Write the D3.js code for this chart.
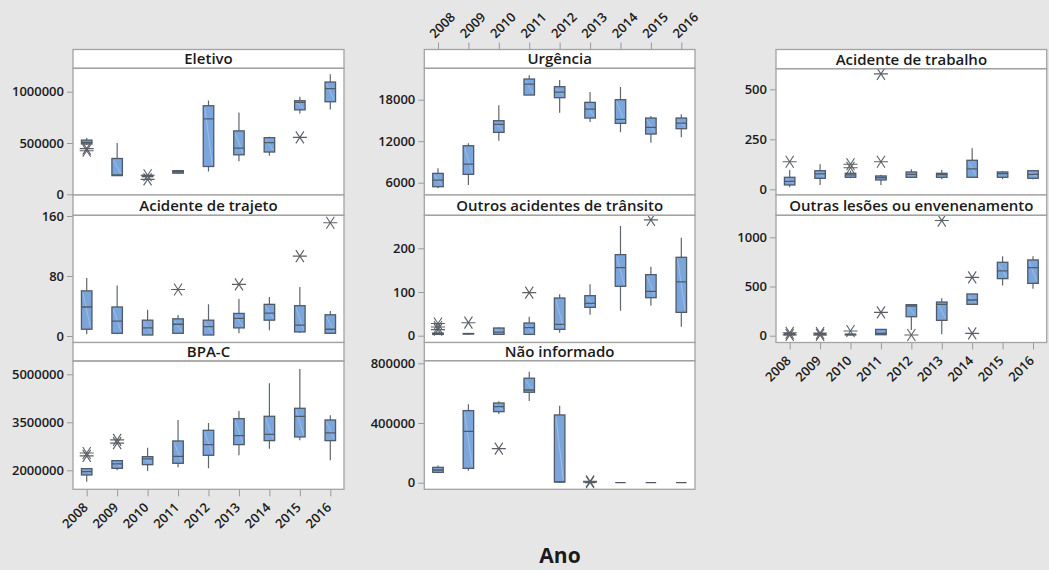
<!DOCTYPE html>
<html><head><meta charset="utf-8">
<script src="https://cdn.jsdelivr.net/npm/d3@7"></script>
<style>
html,body{margin:0;padding:0;background:#e6e6e6;}
svg{display:block;}
text{font-family:"Open Sans","Noto Sans",sans-serif;}
</style></head>
<body>
<script>
// ---------- DATA ----------
const years = ["2008","2009","2010","2011","2012","2013","2014","2015","2016"];

// each entry: [whiskerLow, Q1, median, Q3, whiskerHigh]
const eletivoBoxes = [
  [480000,490000,505000,528000,549000],[178000,182000,190000,349000,500000],
  [168000,172000,178000,185000,190000],[198000,206000,220000,230000,238000],
  [222000,271000,735000,863000,915000],[323000,385000,451000,618000,797000],
  [376000,412000,503000,552000,560000],[787000,823000,895000,912000,951000],
  [826000,902000,1029000,1094000,1170000]];
const eletivoOutliers = [[445000,425000],[],[145000,185000],[],[],[],[],[555000],[]];

const trajetoBoxes = [
  [2.2,9,38.7,60.2,77.3],[2.2,3.6,19.8,38.7,67.4],[1.3,1.3,10.8,21.1,35],
  [3.6,3.6,15.7,22.9,27.9],[1.3,1.3,12.6,21.1,42.2],[3.6,10.8,23.4,30.1,49.4],
  [7.6,21.1,30.6,42.2,52.1],[4.5,5.4,14.4,40.4,65.2],[2.7,3.6,9,28.3,33.3]];
const trajetoOutliers = [[],[],[],[62],[],[68.8],[],[106.5],[151]];

const bpacBoxes = [
  [1646000,1854000,1958000,2052000,2052000],[2000000,2062000,2198000,2302000,2302000],
  [1980000,2177000,2354000,2427000,2708000],[2094000,2219000,2437000,2917000,3573000],
  [2062000,2469000,2802000,3250000,3479000],[2469000,2802000,3083000,3615000,3854000],
  [2677000,2927000,3125000,3688000,4719000],[2938000,3042000,3688000,3938000,5167000],
  [2312000,2927000,3167000,3573000,3719000]];
const bpacOutliers = [[2450000,2540000],[2850000,2950000],[],[],[],[],[],[],[]];

const urgenciaBoxes = [
  [5181,5422,6386,7349,8072],[5663,7205,8699,11349,11687],[12072,13277,14433,14963,17180],
  [18674,18674,20264,20987,21518],[16120,18289,19108,19879,20843],[14771,15349,16650,17614,19108],
  [13277,14578,15156,18000,19831],[11783,13036,14000,15349,15638],[12554,13807,14626,15349,15879]];
const urgenciaOutliers = [[],[],[],[],[],[],[],[],[]];

const transitoBoxes = [
  [2,3,4,6,8],[3,4,4.5,5,5],[3,3,8,17.6,19],[3,3,18.3,29,43.5],[6.9,14.5,26,86.3,94.7],
  [48,64.9,74,91.6,118],[57.3,113,155.7,185.5,251],[68.7,87,101.5,139.7,158],
  [20.6,53.4,123,179.4,224.4]];
const transitoOutliers = [[28,20,14],[29.8],[],[98.5],[],[],[],[265],[]];

const naoInfBoxes = [
  [62600,69300,85000,102800,116000],[80000,96000,344000,483000,525000],
  [460000,476000,510000,534000,545000],[548000,606000,621000,700000,744000],
  [0,4500,5000,454000,516000],[0,0,0,0,0],[0,0,0,0,0],[0,0,0,0,0],[0,0,0,0,0]];
const naoInfOutliers = [[],[],[228000],[],[],[3000,9000],[],[],[]];

const trabalhoBoxes = [
  [10,21.7,40,60,96.7],[21.7,55,76.7,93,125],[55,60,71.7,80,93],[21.7,46.7,58,66.7,73],
  [60,60,75,86.7,100],[50,60,73,80,96.7],[60,60,101.7,145,205],[50,60,78.3,86.7,90],
  [50,55,75,93,93]];
const trabalhoOutliers = [[138],[],[125,108],[138,577],[],[],[],[],[]];

const lesoesBoxes = [
  [5,10,15,20,25],[5,10,15,20,25],[5,8,12,15,20],[10,10,24,64,64],[58,193,302,315,319],
  [14,156,319,342,380],[319,319,363,424,424],[509,580,658,746,807],[478,532,692,770,807]];
const lesoesOutliers = [[30,8],[28,8],[48],[237],[7],[1170],[593,24],[],[]];

const panelTitles = ["Eletivo","Acidente de trajeto","BPA-C","Urgência",
  "Outros acidentes de trânsito","Não informado","Acidente de trabalho","Outras lesões ou envenenamento"];
const yTicks = [[0,500000,1000000],[0,80,160],[2000000,3500000,5000000],[6000,12000,18000],
  [0,100,200],[0,400000,800000],[0,250,500],[0,500,1000]];
const xAxisTitle = "Ano";

// ---------- LAYOUT ----------
const W = 1049, H = 570;
const cols = [[73,344],[424.3,695],[776,1046.7]];
// [col, stripTop, stripBottom, plotBottom, tick0Pixel, tickLastPixel, xAxis]
const layout = [
  [0, 49.5, 68.3, 195, 194.3, 91.7, null],
  [0, 195, 215.3, 342.5, 336, 216, null],
  [0, 342.5, 361, 489.3, 470.3, 374.3, "bottom"],
  [1, 49.5, 68.3, 195, 182.7, 99.7, "top"],
  [1, 195, 215.3, 342.5, 335.7, 248.3, null],
  [1, 342.5, 360.7, 489.3, 482.7, 363.3, null],
  [2, 49.5, 68.7, 195, 189.3, 89.3, null],
  [2, 195, 215.3, 342.5, 335.7, 237.3, "bottom"]];
const boxes = [eletivoBoxes,trajetoBoxes,bpacBoxes,urgenciaBoxes,transitoBoxes,naoInfBoxes,trabalhoBoxes,lesoesBoxes];
const outliers = [eletivoOutliers,trajetoOutliers,bpacOutliers,urgenciaOutliers,transitoOutliers,naoInfOutliers,trabalhoOutliers,lesoesOutliers];

const BOX_FILL = "#7ba6dc", BOX_STROKE = "#505a66", WHISK = "#5f6670", FRAME = "#a3a3a3";
const TXT = "#1a1a1a";
const C45 = Math.SQRT1_2;

const svg = d3.select("body").append("svg").attr("width",W).attr("height",H);
svg.append("rect").attr("width",W).attr("height",H).attr("fill","#e6e6e6");

layout.forEach((L,i)=>{
  const [c, sTop, sBot, pBot, t0px, t1px, xAx] = L;
  const [x0,x1] = cols[c];
  const ticks = yTicks[i];
  const y = d3.scaleLinear().domain([ticks[0], ticks[ticks.length-1]]).range([t0px, t1px]);
  const x = d3.scalePoint().domain(years).range([x0,x1]).padding(0.45);
  const g = svg.append("g");
  const clipId = "clip"+i;
  svg.append("clipPath").attr("id",clipId).append("rect")
     .attr("x",x0).attr("y",sBot).attr("width",x1-x0).attr("height",pBot-sBot);

  g.append("rect").attr("x",x0).attr("y",sBot).attr("width",x1-x0).attr("height",pBot-sBot)
    .attr("fill","#fff");
  g.append("rect").attr("x",x0).attr("y",sTop).attr("width",x1-x0).attr("height",sBot-sTop)
    .attr("fill","#fff").attr("stroke",FRAME).attr("stroke-width",1.3);
  g.append("text").attr("x",(x0+x1)/2).attr("y",(sTop+sBot)/2+5.5)
    .attr("text-anchor","middle").attr("font-size",15).attr("font-weight",600)
    .attr("fill",TXT).text(panelTitles[i]);

  // y axis
  const ya = g.append("g").attr("transform",`translate(${x0},0)`)
    .call(d3.axisLeft(y).tickValues(ticks).tickSize(6).tickPadding(3).tickFormat(d3.format("d")));
  ya.select(".domain").remove();
  ya.selectAll("line").attr("stroke","#9a9a9a");
  ya.selectAll("text").attr("font-size",13).attr("font-weight",600).attr("fill",TXT);

  // x axis (ticks via axis, labels drawn rotated 45deg)
  if (xAx) {
    const isTop = xAx === "top";
    const base = isTop ? sTop : pBot;
    const axis = isTop ? d3.axisTop(x) : d3.axisBottom(x);
    const xa = g.append("g").attr("transform",`translate(0,${base})`)
      .call(axis.tickSize(7).tickFormat(""));
    xa.select(".domain").remove();
    xa.selectAll("line").attr("stroke","#9a9a9a");
    xa.selectAll("text").remove();
    const lab = g.append("g");
    years.forEach(yr=>{
      const px = x(yr) + (isTop ? -3 : 2);
      const py = isTop ? base - 10.5 : base + 19;
      lab.append("text")
        .attr("transform",`matrix(${C45},${-C45},${C45},${C45},${px},${py})`)
        .attr("text-anchor", isTop ? "start" : "end")
        .attr("font-size",13).attr("font-weight",600).attr("fill",TXT).text(yr);
    });
  }

  // boxes
  const pg = g.append("g").attr("clip-path",`url(#${clipId})`);
  const bw = 10.5;
  boxes[i].forEach((b,j)=>{
    const cx = x(years[j]);
    const [lo,q1,md,q3,hi] = b;
    pg.append("line").attr("x1",cx).attr("x2",cx).attr("y1",y(hi)).attr("y2",y(q3))
      .attr("stroke",WHISK).attr("stroke-width",1.2);
    pg.append("line").attr("x1",cx).attr("x2",cx).attr("y1",y(q1)).attr("y2",y(lo))
      .attr("stroke",WHISK).attr("stroke-width",1.2);
    const top = y(q3), bot = y(q1);
    pg.append("rect").attr("x",cx-bw/2).attr("y",top).attr("width",bw).attr("height",Math.max(0,bot-top))
      .attr("fill",BOX_FILL).attr("stroke",BOX_STROKE).attr("stroke-width",1.3);
    if (bot-top > 6) {
      pg.append("line").attr("x1",cx-bw/2+1.5).attr("y1",top+2).attr("x2",cx+bw/2-1.5).attr("y2",bot-2)
        .attr("stroke","#b9d2f0").attr("stroke-width",0.7).attr("opacity",0.8);
    }
    pg.append("line").attr("x1",cx-bw/2).attr("x2",cx+bw/2).attr("y1",y(md)).attr("y2",y(md))
      .attr("stroke",BOX_STROKE).attr("stroke-width",1.3);
    outliers[i][j].forEach(v=>{
      const oy = y(v);
      const a = pg.append("g").attr("transform",`translate(${cx},${oy})`)
        .attr("stroke","#5a5f66").attr("stroke-width",1.1).attr("fill","none");
      a.append("line").attr("x1",-7).attr("x2",7).attr("y1",0).attr("y2",0);
      a.append("line").attr("x1",-4).attr("x2",4).attr("y1",-6).attr("y2",6);
      a.append("line").attr("x1",-4).attr("x2",4).attr("y1",6).attr("y2",-6);
    });
  });

  g.append("rect").attr("x",x0).attr("y",sBot).attr("width",x1-x0).attr("height",pBot-sBot)
    .attr("fill","none").attr("stroke",FRAME).attr("stroke-width",1.3);
});

svg.append("text").attr("x",560).attr("y",563).attr("text-anchor","middle")
  .attr("font-size",21).attr("font-weight",700).attr("fill",TXT).text(xAxisTitle);
</script>
</body></html>
